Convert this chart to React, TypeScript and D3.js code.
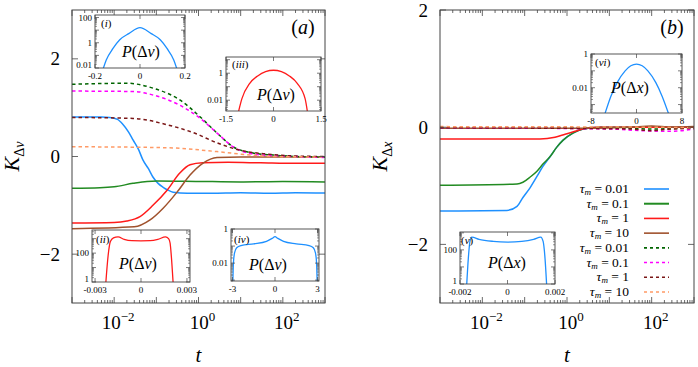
import React from "react";
import * as d3 from "d3";

type Pt = [number, number];

// panel (a): K_dv against t [t, K]
const blueA: Pt[] = [[0.001, 0.81], [0.005, 0.81], [0.0079, 0.8], [0.012, 0.76], [0.016, 0.66], [0.022, 0.5], [0.028, 0.34], [0.038, 0.14], [0.048, -0.07], [0.065, -0.25], [0.083, -0.42], [0.11, -0.55], [0.145, -0.63], [0.19, -0.69], [0.25, -0.73], [0.54, -0.75], [2, -0.75], [10, -0.74], [50, -0.75], [200, -0.74], [1000, -0.75]];
const greenA: Pt[] = [[0.001, -0.65], [0.0046, -0.64], [0.01, -0.62], [0.028, -0.55], [0.06, -0.51], [0.105, -0.5], [1, -0.51], [10, -0.52], [100, -0.51], [1000, -0.52]];
const redA: Pt[] = [[0.001, -1.36], [0.01, -1.35], [0.02, -1.32], [0.041, -1.23], [0.083, -1.0], [0.18, -0.69], [0.36, -0.34], [0.63, -0.17], [1.26, -0.13], [5, -0.12], [30, -0.13], [200, -0.14], [1000, -0.14]];
const brownA: Pt[] = [[0.001, -1.48], [0.03, -1.44], [0.071, -1.3], [0.145, -1.06], [0.31, -0.73], [0.63, -0.38], [1.26, -0.14], [2.75, -0.02], [10, -0.01], [100, -0.01], [1000, -0.01]];
const greenDashA: Pt[] = [[0.001, 1.48], [0.02, 1.5], [0.083, 1.4], [0.36, 1.16], [1.1, 0.81], [2.75, 0.48], [6.6, 0.2], [19.5, 0.07], [59, 0.03], [200, 0.0], [1000, -0.01]];
const magentaDashA: Pt[] = [[0.001, 1.34], [0.03, 1.33], [0.083, 1.26], [0.36, 1.05], [1.1, 0.78], [2.75, 0.48], [6.6, 0.2], [19.5, 0.05], [59, 0.02], [200, 0.0], [1000, -0.02]];
const maroonDashA: Pt[] = [[0.001, 0.8], [0.028, 0.78], [0.18, 0.65], [0.8, 0.48], [2.75, 0.28], [9.5, 0.13], [42, 0.05], [200, 0.01], [1000, 0.0]];
const orangeDashA: Pt[] = [[0.001, 0.2], [0.18, 0.18], [2.75, 0.1], [17, 0.03], [60, 0.0], [1000, -0.01]];

// panel (b): K_dx against t
const blueB: Pt[] = [[0.001, -1.43], [0.038, -1.42], [0.066, -1.35], [0.091, -1.2], [0.135, -1.03], [0.195, -0.84], [0.27, -0.67], [0.4, -0.5], [0.575, -0.34], [0.81, -0.22], [1.38, -0.1], [2.4, -0.03], [6, 0.0], [100, 0.0], [1000, 0.0]];
const greenB: Pt[] = [[0.001, -0.99], [0.066, -0.97], [0.091, -0.94], [0.135, -0.85], [0.195, -0.75], [0.27, -0.63], [0.4, -0.5], [0.575, -0.34], [0.81, -0.22], [1.38, -0.1], [2.4, -0.03], [6, 0.0], [1000, 0.0]];
const redB: Pt[] = [[0.001, -0.2], [0.23, -0.2], [0.52, -0.17], [0.9, -0.12], [1.55, -0.07], [2.7, -0.02], [6, 0.0], [1000, 0.0]];
const brownB: Pt[] = [[0.001, -0.02], [1, -0.02], [30, 0.0], [100, 0.02], [300, 0.0], [1000, 0.01]];
const greenDashB: Pt[] = [[0.001, -0.01], [10, -0.01], [100, -0.03], [1000, -0.01]];
const magentaDashB: Pt[] = [[0.001, -0.01], [10, -0.03], [60, -0.06], [300, -0.07], [1000, -0.03]];
const maroonDashB: Pt[] = [[0.001, -0.01], [30, -0.03], [100, -0.06], [200, -0.04], [1000, -0.02]];
const orangeDashB: Pt[] = [[0.001, 0.01], [100, 0.0], [1000, -0.01]];

// insets: [x, log10 P]
const insetI: Pt[] = [[-0.168, -2.3], [-0.15, -1.36], [-0.12, -0.45], [-0.09, 0.24], [-0.05, 0.72], [0, 1.2], [0.05, 0.72], [0.09, 0.24], [0.12, -0.45], [0.15, -1.36], [0.168, -2.3]];
const insetII: Pt[] = [[-0.0023, -0.1], [-0.00215, 1.8], [-0.002, 2.8], [-0.0018, 3.05], [-0.0015, 3.12], [-0.0011, 2.95], [-0.0006, 2.86], [0, 2.85], [0.0006, 2.86], [0.0011, 2.95], [0.0016, 3.12], [0.0018, 3.0], [0.0019, 2.7], [0.00198, 1.8], [0.0021, -0.1]];
const insetIII: Pt[] = [[-1.12, -3.0], [-1.0, -1.9], [-0.75, -0.75], [-0.5, -0.2], [-0.25, 0.12], [0, 0.22], [0.25, 0.12], [0.5, -0.2], [0.75, -0.75], [1.0, -1.9], [1.08, -3.0]];
const insetIV: Pt[] = [[-2.97, -3.1], [-2.93, -2.0], [-2.85, -1.4], [-2.7, -1.1], [-2.4, -0.97], [-1.5, -0.87], [-0.6, -0.72], [-0.2, -0.55], [0, -0.45], [0.2, -0.55], [0.6, -0.72], [1.5, -0.87], [2.4, -0.97], [2.7, -1.1], [2.85, -1.4], [2.93, -2.0], [2.97, -3.1]];
const insetV: Pt[] = [[-0.00172, -0.1], [-0.00165, 1.5], [-0.00158, 2.5], [-0.0015, 2.75], [-0.0012, 2.62], [-0.0006, 2.5], [0, 2.46], [0.0006, 2.5], [0.0011, 2.62], [0.0014, 2.75], [0.0015, 2.5], [0.00158, 1.5], [0.00165, -0.1]];
const insetVI: Pt[] = [[-5.6, -3.6], [-4.5, -2.5], [-3.4, -1.7], [-2, -1.0], [-1, -0.7], [0, -0.6], [1, -0.7], [2, -1.0], [3.4, -1.7], [4.5, -2.5], [5.7, -3.6]];

const tauLabels = ["0.01", "0.1", "1", "10", "0.01", "0.1", "1", "10"];
const colors = ["#1e90ff", "#228b22", "#ff1a1a", "#a0522d", "#006400", "#ff00ff", "#7a1616", "#ff9a66"];
const decades = [-2, 0, 2];
const mainYTicks = [-2, 0, 2];

const FONT = "'Liberation Serif', 'DejaVu Serif', serif";
const FRAME = "#444";

function MainPanel(props: any) {
  const { left, right, top, bottom, yDomain, lines, tag, id, sub } = props;
  const x = d3.scaleLog().domain([1e-3, 1e3]).range([left, right]);
  const y = d3.scaleLinear().domain(yDomain).range([bottom, top]);
  const line = d3.line<Pt>().x(d => x(d[0])).y(d => y(d[1])).curve(d3.curveMonotoneX);

  const minor: number[] = [];
  for (let e = -3; e < 3; e++) for (let k = 2; k <= 9; k++) minor.push(k * Math.pow(10, e));
  const major = d3.range(-3, 4).map(e => Math.pow(10, e));

  return (
    <g>
      <defs>
        <clipPath id={id}><rect x={left} y={top} width={right - left} height={bottom - top} /></clipPath>
      </defs>
      <g clipPath={`url(#${id})`}>
        {lines.map((s: Pt[], i: number) => (
          <path key={i} d={line(s) || ""} fill="none" stroke={colors[i]} strokeWidth={1.5}
            strokeDasharray={i >= 4 ? "3.5,3" : undefined} />
        ))}
      </g>
      <rect x={left} y={top} width={right - left} height={bottom - top} fill="none" stroke={FRAME} strokeWidth={1} />
      {minor.map((t, i) => (
        <g key={"m" + i} stroke={FRAME} strokeWidth={0.8}>
          <line x1={x(t)} x2={x(t)} y1={bottom} y2={bottom - 3} />
          <line x1={x(t)} x2={x(t)} y1={top} y2={top + 3} />
        </g>
      ))}
      {major.map((t, i) => (
        <g key={"M" + i} stroke={FRAME} strokeWidth={0.8}>
          <line x1={x(t)} x2={x(t)} y1={bottom} y2={bottom - 6} />
          <line x1={x(t)} x2={x(t)} y1={top} y2={top + 6} />
        </g>
      ))}
      {mainYTicks.map(v => (
        <g key={"y" + v}>
          <line x1={left} x2={left + 6} y1={y(v)} y2={y(v)} stroke={FRAME} strokeWidth={0.8} />
          <line x1={right} x2={right - 6} y1={y(v)} y2={y(v)} stroke={FRAME} strokeWidth={0.8} />
          <text x={left - 12} y={y(v)} dy="0.35em" textAnchor="end" fontSize={19} fontFamily={FONT}>
            {v < 0 ? "\u2212" + Math.abs(v) : v}
          </text>
        </g>
      ))}
      {decades.map(e => (
        <text key={"d" + e} x={x(Math.pow(10, e)) + 4} y={329} textAnchor="middle" fontSize={19} fontFamily={FONT}>
          10<tspan fontSize={13} dy={-8}>{e < 0 ? "\u2212" + Math.abs(e) : e}</tspan>
        </text>
      ))}
      <text x={(left + right) / 2} y={362} textAnchor="middle" fontSize={21} fontStyle="italic" fontFamily={FONT}>t</text>
      <text transform={`translate(${left - 53},${(top + bottom) / 2}) rotate(-90)`} textAnchor="middle" fontSize={22} fontFamily={FONT}>
        <tspan fontStyle="italic">K</tspan>
        <tspan fontSize={14} dy={5}>Δ</tspan><tspan fontSize={14} fontStyle="italic">{sub}</tspan>
      </text>
      <text x={right - 22} y={34} textAnchor="middle" fontSize={20} fontFamily={FONT}>
        (<tspan fontStyle="italic">{tag}</tspan>)
      </text>
    </g>
  );
}

function Inset(props: any) {
  const { box, xDomain, yDomain, xTicks, yTicks, data, color, tag, label, sub, id } = props;
  const [x0, y0, x1, y1] = box;
  const x = d3.scaleLinear().domain(xDomain).range([x0, x1]);
  const y = d3.scaleLinear().domain(yDomain).range([y1, y0]);
  const line = d3.line<Pt>().x(d => x(d[0])).y(d => y(d[1])).curve(d3.curveMonotoneX);
  const minor: number[] = [];
  for (let e = Math.floor(yDomain[0]) - 1; e <= Math.ceil(yDomain[1]); e++)
    for (let k = 2; k <= 9; k++) {
      const v = e + Math.log10(k);
      if (v > yDomain[0] && v < yDomain[1]) minor.push(v);
    }
  const majors: number[] = [];
  for (let e = Math.ceil(yDomain[0]); e <= Math.floor(yDomain[1]); e++) majors.push(e);
  return (
    <g fontFamily={FONT}>
      <defs>
        <clipPath id={id}><rect x={x0} y={y0} width={x1 - x0} height={y1 - y0} /></clipPath>
      </defs>
      <rect x={x0} y={y0} width={x1 - x0} height={y1 - y0} fill="white" />
      <path d={line(data) || ""} fill="none" stroke={color} strokeWidth={1.3} clipPath={`url(#${id})`} />
      <rect x={x0} y={y0} width={x1 - x0} height={y1 - y0} fill="none" stroke={FRAME} strokeWidth={0.9} />
      {minor.map((v, i) => (
        <g key={"m" + i} stroke={FRAME} strokeWidth={0.6}>
          <line x1={x0} x2={x0 + 2} y1={y(v)} y2={y(v)} />
          <line x1={x1} x2={x1 - 2} y1={y(v)} y2={y(v)} />
        </g>
      ))}
      {majors.map(v => (
        <g key={"M" + v} stroke={FRAME} strokeWidth={0.7}>
          <line x1={x0} x2={x0 + 4} y1={y(v)} y2={y(v)} />
          <line x1={x1} x2={x1 - 4} y1={y(v)} y2={y(v)} />
        </g>
      ))}
      {yTicks.map((t: [number, string]) => (
        <text key={t[1]} x={x0 - 3} y={y(t[0]) - (y1 - y(t[0]) < 3 ? 3 : 0)} dy="0.35em" textAnchor="end" fontSize={9}>{t[1]}</text>
      ))}
      {xTicks.map((t: [number, string]) => (
        <g key={t[1]}>
          <line x1={x(t[0])} x2={x(t[0])} y1={y1} y2={y1 - 4} stroke={FRAME} strokeWidth={0.7} />
          <line x1={x(t[0])} x2={x(t[0])} y1={y0} y2={y0 + 4} stroke={FRAME} strokeWidth={0.7} />
          <text x={x(t[0])} y={y1 + 10.5} textAnchor="middle" fontSize={9}>{t[1]}</text>
        </g>
      ))}
      <text x={tag[1]} y={tag[2]} fontSize={11} fontStyle="italic">
        <tspan fontStyle="normal">(</tspan>{tag[0]}<tspan fontStyle="normal">)</tspan>
      </text>
      <text x={label[0]} y={label[1]} textAnchor="middle" fontSize={16}>
        <tspan fontStyle="italic">P</tspan>(Δ<tspan fontStyle="italic">{sub}</tspan>)
      </text>
    </g>
  );
}

function Legend() {
  const xr = 629;
  const rows = d3.scaleLinear().domain([0, 7]).range([189, 292]);
  return (
    <g fontFamily={FONT}>
      {tauLabels.map((lab, i) => (
        <g key={i}>
          <text x={xr} y={rows(i) + 4} textAnchor="end" fontSize={13.5}>
            <tspan fontStyle="italic">τ</tspan>
            <tspan fontSize={9} fontStyle="italic" dy={2}>m</tspan>
            <tspan dy={-2}>{" = " + lab}</tspan>
          </text>
          <line x1={644} x2={669} y1={rows(i)} y2={rows(i)} stroke={colors[i]} strokeWidth={i === 1 ? 2 : 1.6}
            strokeDasharray={i >= 4 ? "3,3" : undefined} />
        </g>
      ))}
    </g>
  );
}

export default function App() {
  return (
    <svg width={698} height={367} style={{ position: "absolute", left: 0, top: 0, background: "white" }}>
      <MainPanel id="ca" left={72} right={325} top={10} bottom={303} yDomain={[-3, 3]} tag="a" sub="v"
        lines={[blueA, greenA, redA, brownA, greenDashA, magentaDashA, maroonDashA, orangeDashA]} />
      <MainPanel id="cb" left={440} right={694} top={10} bottom={303} yDomain={[-3, 2]} tag="b" sub="x"
        lines={[blueB, greenB, redB, brownB, greenDashB, magentaDashB, maroonDashB, orangeDashB]} />
      <Inset id="i1" box={[95, 15, 185, 68]} xDomain={[-0.2, 0.2]} yDomain={[-2, 2.2]} data={insetI} color={colors[0]}
        yTicks={[[2, "100"], [0, "1"], [-2, "0.01"]]} xTicks={[[-0.2, "-0.2"], [0, "0"], [0.2, "0.2"]]}
        tag={["i", 101, 27]} label={[141, 57]} sub="v" />
      <Inset id="i3" box={[226, 57, 321, 111]} xDomain={[-1.5, 1.5]} yDomain={[-2.8, 1.2]} data={insetIII} color={colors[2]}
        yTicks={[[0, "1"], [-2, "0.01"]]} xTicks={[[-1.5, "-1.5"], [0, "0"], [1.5, "1.5"]]}
        tag={["iii", 232, 68]} label={[276, 100]} sub="v" />
      <Inset id="i2" box={[92, 230, 190, 282]} xDomain={[-0.0032, 0.0032]} yDomain={[0, 3.6]} data={insetII} color={colors[2]}
        yTicks={[[2, "100"], [0, "1"]]} xTicks={[[-0.003, "-0.003"], [0, "0"], [0.003, "0.003"]]}
        tag={["ii", 96, 243]} label={[138, 269]} sub="v" />
      <Inset id="i4" box={[231, 229, 319, 281]} xDomain={[-3.1, 3.1]} yDomain={[-3.05, 0]} data={insetIV} color={colors[0]}
        yTicks={[[0, "1"], [-2, "0.01"]]} xTicks={[[-3, "-3"], [0, "0"], [3, "3"]]}
        tag={["iv", 234, 243]} label={[268, 270]} sub="v" />
      <Inset id="i5" box={[460, 232, 555, 284]} xDomain={[-0.002, 0.002]} yDomain={[0, 3.05]} data={insetV} color={colors[0]}
        yTicks={[[2, "100"], [0, "1"]]} xTicks={[[-0.002, "-0.002"], [0, "0"], [0.002, "0.002"]]}
        tag={["v", 461, 244]} label={[507, 268]} sub="x" />
      <Inset id="i6" box={[591, 54, 682, 113]} xDomain={[-8, 8]} yDomain={[-3.5, 0]} data={insetVI} color={colors[0]}
        yTicks={[[0, "1"], [-2, "0.01"]]} xTicks={[[-8, "-8"], [0, "0"], [8, "8"]]}
        tag={["vi", 595, 66]} label={[630, 93]} sub="x" />
      <Legend />
    </svg>
  );
}
